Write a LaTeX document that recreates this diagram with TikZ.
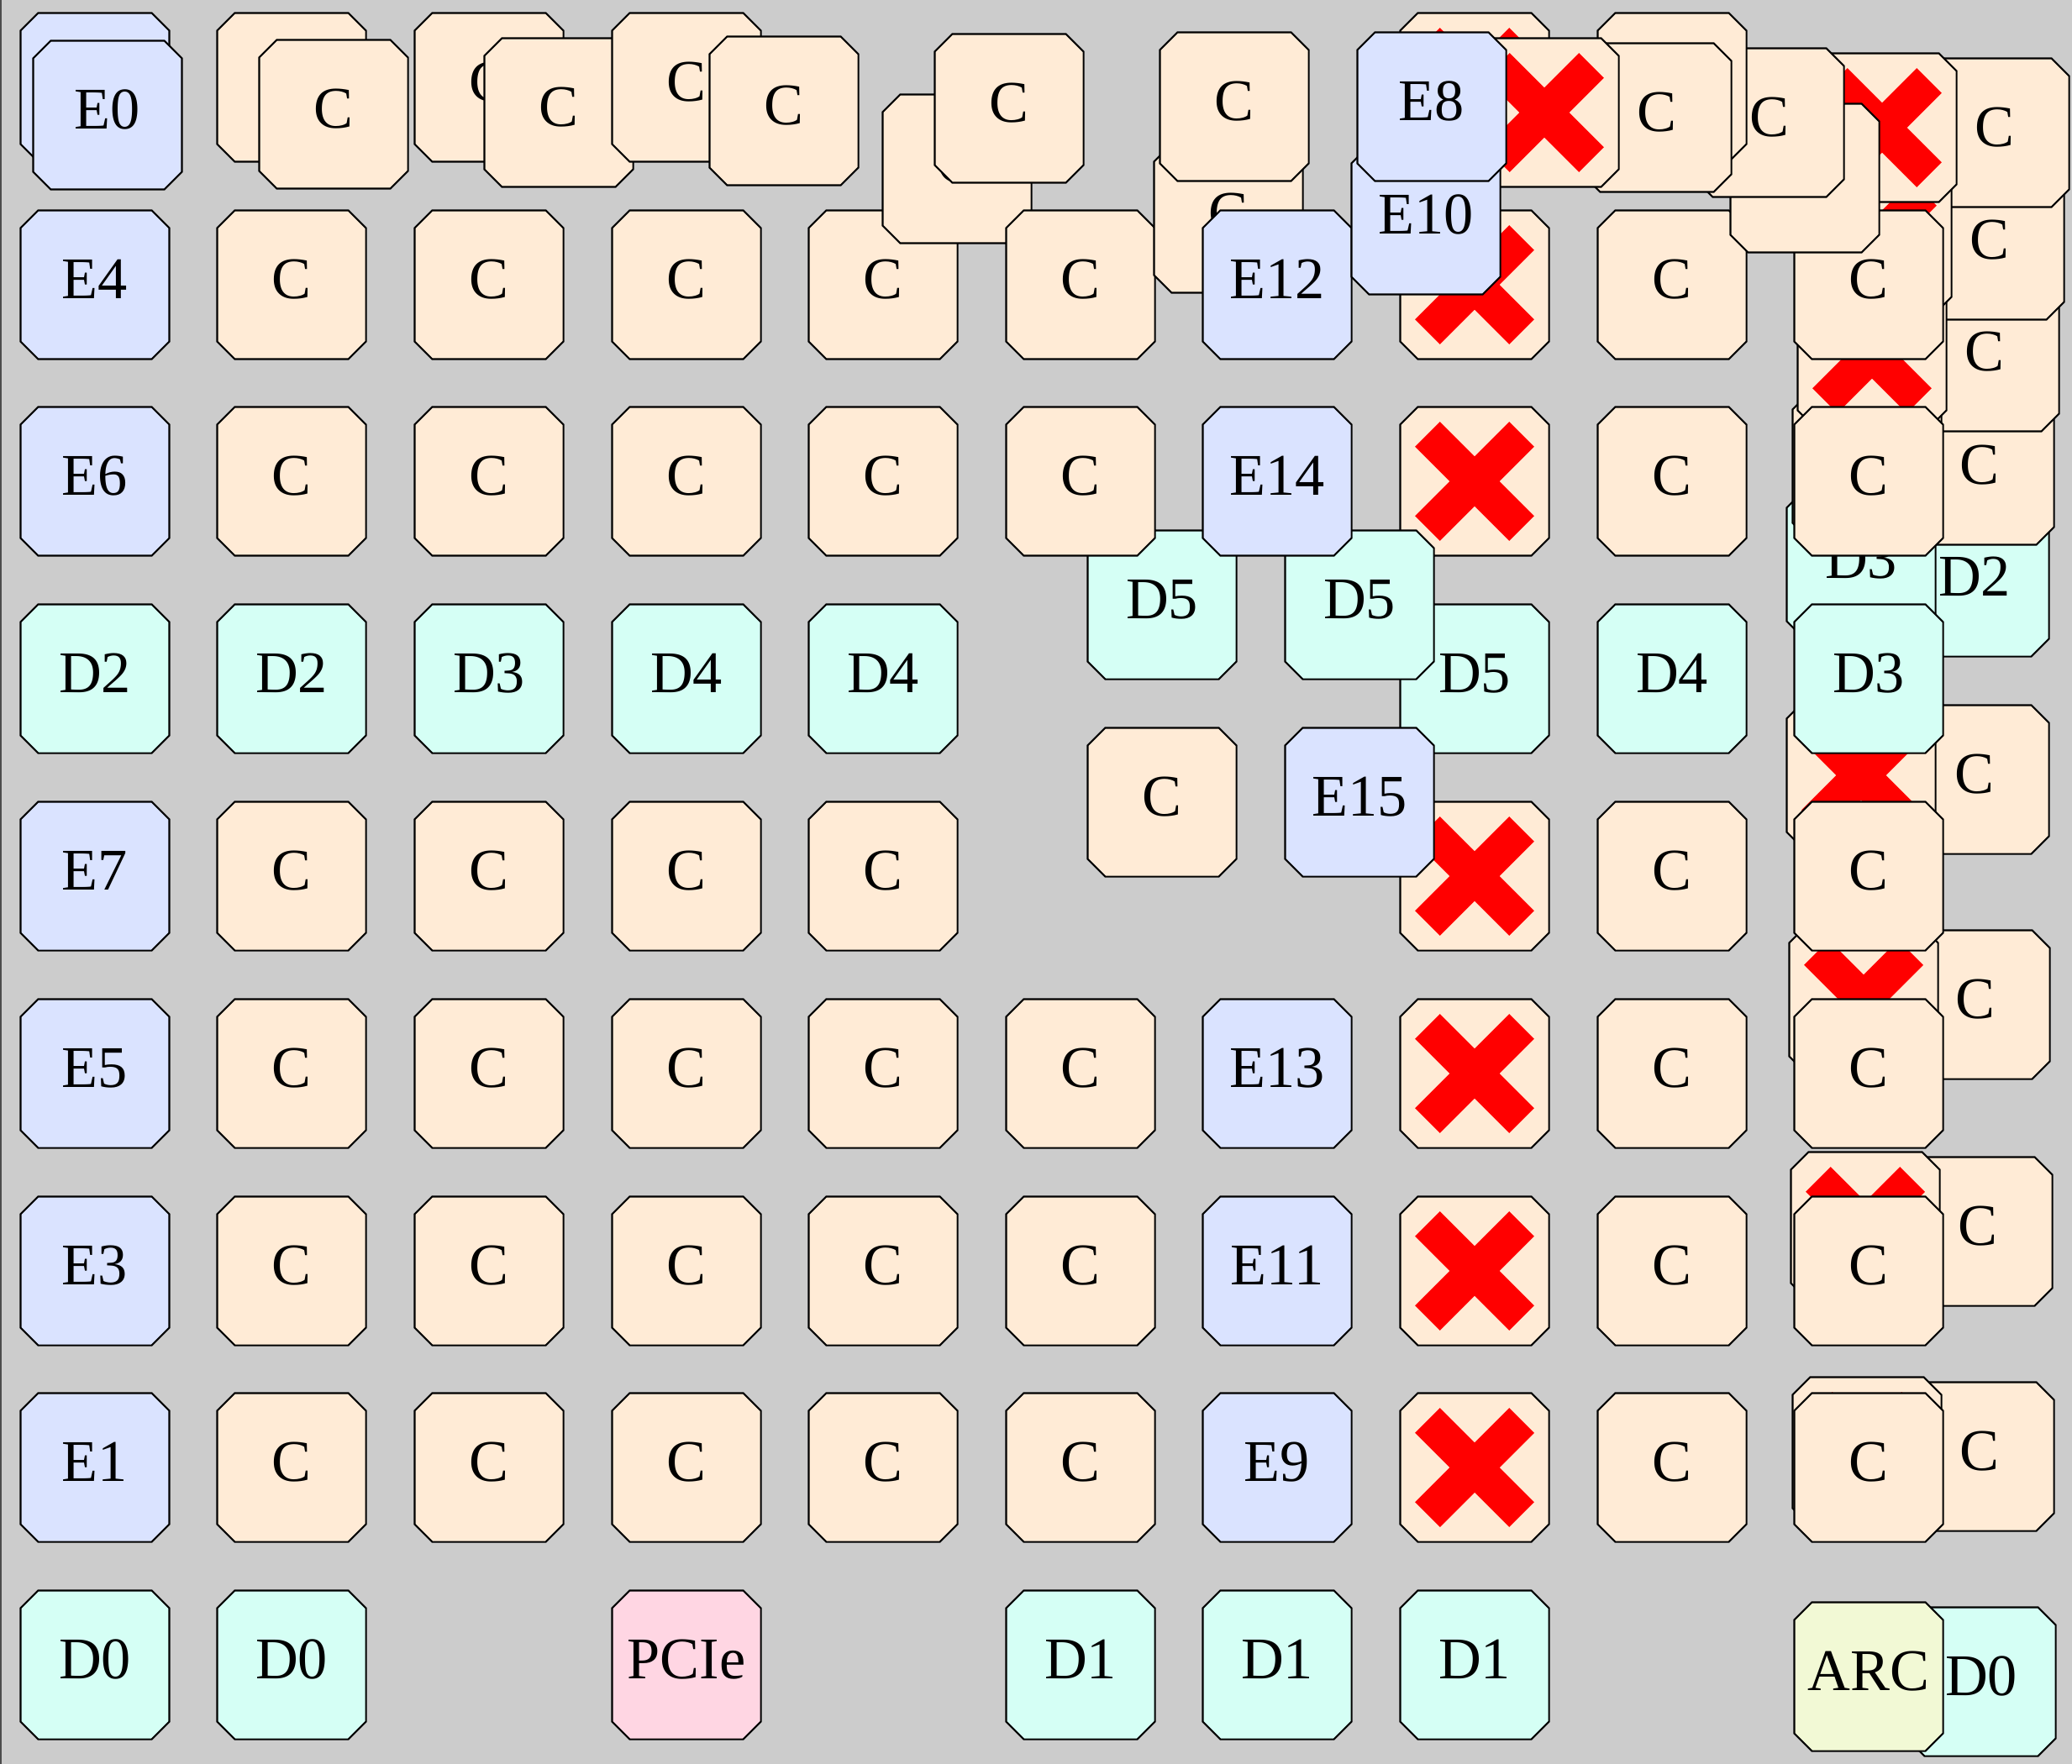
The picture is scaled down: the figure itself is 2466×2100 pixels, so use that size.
\documentclass[tikz,border=0pt]{standalone}
\usepackage{fontspec}
\setmainfont{Liberation Serif}
\definecolor{bggray}{HTML}{CCCCCC}
\definecolor{efill}{HTML}{DAE3FF}
\definecolor{cfill}{HTML}{FFEBD6}
\definecolor{dfill}{HTML}{D5FFF5}
\definecolor{pfill}{HTML}{FFD6E3}
\definecolor{afill}{HTML}{F2F9D5}
\definecolor{xred}{HTML}{FF0000}
\newcommand{\chipfont}{\fontsize{20}{24}\selectfont}
% octagon outline of a block, drawn inside the node
\newcommand{\chipoct}[1]{%
  \filldraw[fill=#1, draw=black, line width=0.6pt]
    ([shift={(-0.675cm,0.885cm)}]path picture bounding box.center) --
    ([shift={(0.675cm,0.885cm)}]path picture bounding box.center) --
    ([shift={(0.885cm,0.675cm)}]path picture bounding box.center) --
    ([shift={(0.885cm,-0.675cm)}]path picture bounding box.center) --
    ([shift={(0.675cm,-0.885cm)}]path picture bounding box.center) --
    ([shift={(-0.675cm,-0.885cm)}]path picture bounding box.center) --
    ([shift={(-0.885cm,-0.675cm)}]path picture bounding box.center) --
    ([shift={(-0.885cm,0.675cm)}]path picture bounding box.center) -- cycle;}
\newcommand{\chipcross}{%
  \draw[xred, line width=0.42cm]
    ([shift={(-0.56cm,-0.56cm)}]path picture bounding box.center) --
    ([shift={(0.56cm,0.56cm)}]path picture bounding box.center)
    ([shift={(-0.56cm,0.56cm)}]path picture bounding box.center) --
    ([shift={(0.56cm,-0.56cm)}]path picture bounding box.center);}
\tikzset{
  chip/.style={rectangle, minimum size=1.8cm, inner sep=0pt,
    text height=0.465cm, text depth=0.141cm, font=\chipfont,
    path picture={\chipoct{#1}}},
  ebox/.style={chip=efill},
  cbox/.style={chip=cfill},
  dbox/.style={chip=dfill},
  pbox/.style={chip=pfill},
  abox/.style={chip=afill},
  dead/.style={chip=cfill, path picture={\chipoct{cfill}\chipcross}},
}
\begin{document}
\begin{tikzpicture}[x=0.01cm,y=-0.01cm]
\useasboundingbox (0,0) rectangle (2466,2100);
\fill[bggray] (0,0) rectangle (2466,2100);
\draw[line width=0.02cm, black!70] (1,0) -- (1,2100);
% top row, left part
\node[ebox] (e0b) at (113,104) {};
\node[ebox] (e0) at (128,137) {E0};
\node[cbox] (c01b) at (347,104) {};
\node[cbox] (c01) at (397,136) {C};
\node[cbox] (c02b) at (582,104) {C};
\node[cbox] (c02) at (665,134) {C};
\node[cbox] (c03b) at (817,104) {C};
\node[cbox] (c03) at (933,132) {C};
% row 1
\node[ebox] (e4) at (113,339) {E4};
\node[cbox] (c11) at (347,339) {C};
\node[cbox] (c12) at (582,339) {C};
\node[cbox] (c13) at (817,339) {C};
\node[cbox] (c14) at (1051,339) {C};
\node[cbox] (c04b) at (1139,201) {C};
\node[cbox] (c04) at (1201,129) {C};
\node[cbox] (c15) at (1286,339) {C};
\node[cbox] (c05b) at (1462,260) {C};
\node[cbox] (c05) at (1469,127) {C};
\node[ebox] (e12) at (1520,339) {E12};
% right stack
\node[dbox] (d2r) at (2350,693) {D2};
\node[cbox] (cr4) at (2356,560) {C};
\node[cbox] (cr3) at (2362,425) {C};
\node[cbox] (cr2) at (2368,292) {C};
\node[cbox] (cr1) at (2374,158) {C};
\node[cbox] (cr5) at (2350,928) {C};
\node[cbox] (cr6) at (2351,1196) {C};
\node[cbox] (cr7) at (2354,1466) {C};
\node[cbox] (cr8) at (2356,1734) {C};
\node[dbox] (d0r) at (2358,2002) {D0};
\node[dbox] (d3l) at (2215,672) {D3};
\node[cbox] (cl4) at (2222,555) {};
\node[dead] (xl3) at (2228,421) {};
\node[dead] (xl2) at (2234,286) {};
\node[dead] (xl1) at (2240,152) {};
\node[dead] (xl5) at (2215,923) {};
\node[dead] (xl6) at (2218,1190) {};
\node[dead] (xl7) at (2220,1460) {};
\node[dead] (xl8) at (2222,1728) {};
\node[abox] (arc) at (2224,1996) {ARC};
% columns 7 to 9
\node[dead] (x17) at (1755,339) {};
\node[cbox] (c18) at (1990,339) {C};
\node[cbox] (c19) at (2224,339) {C};
\node[dead] (x27) at (1755,573) {};
\node[cbox] (c28) at (1990,573) {C};
\node[cbox] (c29) at (2224,573) {C};
\node[dbox] (d37) at (1755,808) {D5};
\node[dbox] (d38) at (1990,808) {D4};
\node[dbox] (d39) at (2224,808) {D3};
\node[dead] (x47) at (1755,1043) {};
\node[cbox] (c48) at (1990,1043) {C};
\node[cbox] (c49) at (2224,1043) {C};
\node[dead] (x57) at (1755,1278) {};
\node[cbox] (c58) at (1990,1278) {C};
\node[cbox] (c59) at (2224,1278) {C};
\node[dead] (x67) at (1755,1513) {};
\node[cbox] (c68) at (1990,1513) {C};
\node[cbox] (c69) at (2224,1513) {C};
\node[dead] (x77) at (1755,1747) {};
\node[cbox] (c78) at (1990,1747) {C};
\node[cbox] (c79) at (2224,1747) {C};
\node[dbox] (d87) at (1755,1982) {D1};
% shifted middle blocks
\node[dbox] (d35) at (1383,720) {D5};
\node[dbox] (d36) at (1618,720) {D5};
\node[cbox] (c45) at (1383,955) {C};
\node[ebox] (e15) at (1618,955) {E15};
% rows 2 to 8
\node[ebox] (e6) at (113,573) {E6};
\node[cbox] (c21) at (347,573) {C};
\node[cbox] (c22) at (582,573) {C};
\node[cbox] (c23) at (817,573) {C};
\node[cbox] (c24) at (1051,573) {C};
\node[cbox] (c25) at (1286,573) {C};
\node[ebox] (e14) at (1520,573) {E14};
\node[dbox] (d30) at (113,808) {D2};
\node[dbox] (d31) at (347,808) {D2};
\node[dbox] (d32) at (582,808) {D3};
\node[dbox] (d33) at (817,808) {D4};
\node[dbox] (d34) at (1051,808) {D4};
\node[ebox] (e7) at (113,1043) {E7};
\node[cbox] (c41) at (347,1043) {C};
\node[cbox] (c42) at (582,1043) {C};
\node[cbox] (c43) at (817,1043) {C};
\node[cbox] (c44) at (1051,1043) {C};
\node[ebox] (e5) at (113,1278) {E5};
\node[cbox] (c51) at (347,1278) {C};
\node[cbox] (c52) at (582,1278) {C};
\node[cbox] (c53) at (817,1278) {C};
\node[cbox] (c54) at (1051,1278) {C};
\node[cbox] (c55) at (1286,1278) {C};
\node[ebox] (e13) at (1520,1278) {E13};
\node[ebox] (e3) at (113,1513) {E3};
\node[cbox] (c61) at (347,1513) {C};
\node[cbox] (c62) at (582,1513) {C};
\node[cbox] (c63) at (817,1513) {C};
\node[cbox] (c64) at (1051,1513) {C};
\node[cbox] (c65) at (1286,1513) {C};
\node[ebox] (e11) at (1520,1513) {E11};
\node[ebox] (e1) at (113,1747) {E1};
\node[cbox] (c71) at (347,1747) {C};
\node[cbox] (c72) at (582,1747) {C};
\node[cbox] (c73) at (817,1747) {C};
\node[cbox] (c74) at (1051,1747) {C};
\node[cbox] (c75) at (1286,1747) {C};
\node[ebox] (e9) at (1520,1747) {E9};
\node[dbox] (d80) at (113,1982) {D0};
\node[dbox] (d81) at (347,1982) {D0};
\node[pbox] (pcie) at (817,1982) {PCIe};
\node[dbox] (d85) at (1286,1982) {D1};
\node[dbox] (d86) at (1520,1982) {D1};
% top row, right part
\node[dead] (x07) at (1755,104) {};
\node[cbox] (c09b) at (2148,212) {};
\node[cbox] (c09) at (2106,146) {C};
\node[cbox] (c08b) at (1990,104) {};
\node[cbox] (c08) at (1972,140) {C};
\node[dead] (x07f) at (1838,134) {};
\node[ebox] (e10) at (1697,262) {E10};
\node[ebox] (e8) at (1704,127) {E8};
\end{tikzpicture}
\end{document}
